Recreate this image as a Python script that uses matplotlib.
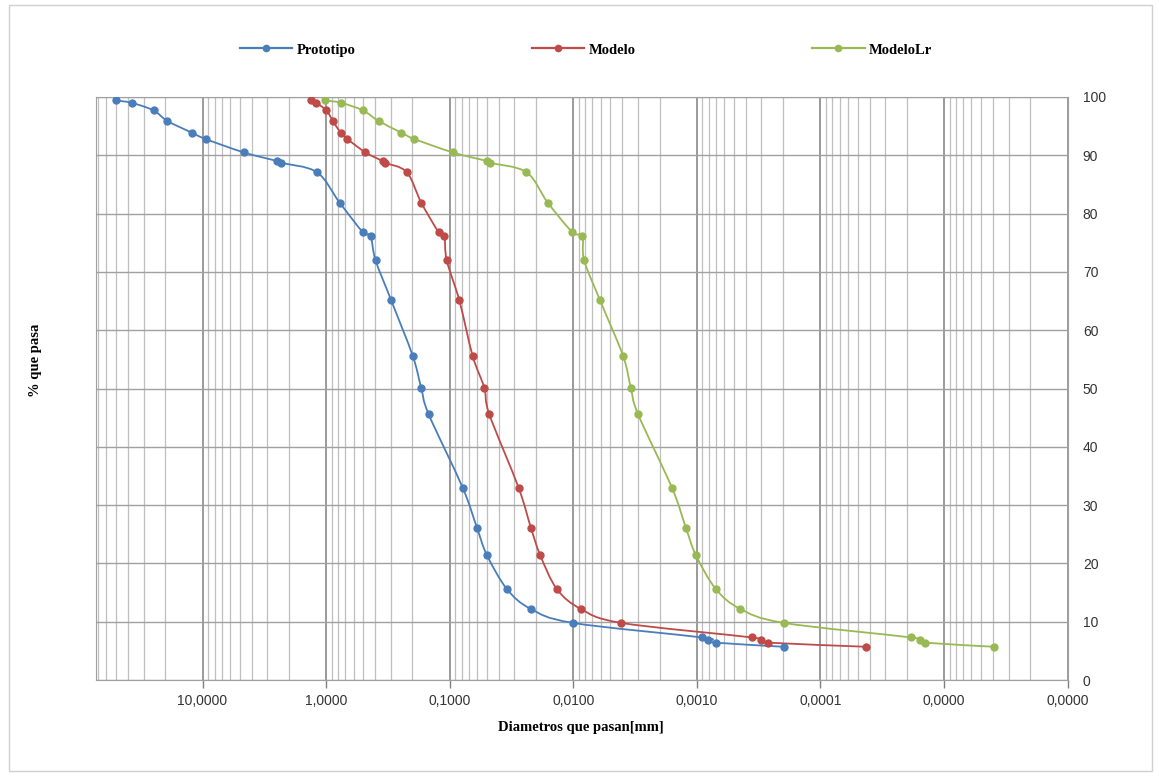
import numpy as np
import matplotlib
matplotlib.use('Agg')
import matplotlib.pyplot as plt
from matplotlib.path import Path
from matplotlib.patches import PathPatch, Rectangle
from matplotlib.lines import Line2D
from matplotlib.ticker import FixedLocator, FuncFormatter, MultipleLocator, NullFormatter

# % que pasa (same for the three curves)
pct = [99.4, 99.0, 97.7, 95.9, 93.9, 92.8, 90.5, 89.0, 88.7, 87.1, 81.9, 76.8, 76.2, 72.0,
       65.1, 55.6, 50.1, 45.6, 33.0, 26.1, 21.4, 15.6, 12.2, 9.8, 7.3, 6.8, 6.4, 5.7]

# diametros [mm]
prototipo = [50.1, 37.5, 24.9, 19.3, 12.27, 9.46, 4.64, 2.48, 2.30, 1.187, 0.778, 0.504, 0.437, 0.398,
             0.297, 0.199, 0.170, 0.148, 0.0785, 0.0601, 0.0499, 0.0344, 0.0221, 0.0101,
             0.000910, 0.000815, 0.000697, 0.000198]
modelo = [1.317, 1.200, 0.996, 0.881, 0.764, 0.674, 0.480, 0.348, 0.331, 0.2225, 0.170, 0.1227, 0.1104, 0.1057,
          0.0835, 0.0652, 0.0524, 0.0478, 0.0277, 0.0220, 0.0185, 0.01357, 0.00870, 0.00410,
          0.000359, 0.000304, 0.000263, 0.0000425]
modelo_lr = [1.015, 0.754, 0.504, 0.3765, 0.247, 0.193, 0.0946, 0.0496, 0.0469, 0.0239, 0.0161, 0.01015, 0.00843, 0.00816,
             0.00606, 0.00395, 0.00342, 0.00299, 0.00159, 0.001225, 0.001017, 0.000701, 0.000445, 0.000198,
             0.0000185, 0.0000155, 0.0000141, 0.00000395]

series = [('Prototipo', prototipo, '#4A7EBB'),
          ('Modelo', modelo, '#BE4B48'),
          ('ModeloLr', modelo_lr, '#98B954')]

x_max, x_min = 72.8, 1e-6
decades = 10.0 ** np.arange(1, -7, -1)


def smooth_path(xs, ys):
    # excel-like smoothed line: catmull-rom bezier in log-x space
    pts = np.column_stack([np.log10(xs), ys])
    n = len(pts)
    verts = [pts[0]]
    codes = [Path.MOVETO]
    for i in range(n - 1):
        p0 = pts[i - 1] if i > 0 else pts[i]
        p1 = pts[i]
        p2 = pts[i + 1]
        p3 = pts[i + 2] if i + 2 < n else pts[i + 1]
        verts += [p1 + (p2 - p0) / 6, p2 - (p3 - p1) / 6, p2]
        codes += [Path.CURVE4] * 3
    v = np.array(verts)
    v[:, 0] = 10 ** v[:, 0]
    return Path(v, codes)


W, H = 1159, 777
fig = plt.figure(figsize=(W / 100, H / 100), dpi=100)
ax = fig.add_axes([96 / W, 1 - 680 / H, (1067.5 - 96) / W, (680 - 97) / H])

ax.set_xscale('log')
ax.set_xlim(x_max, x_min)
ax.set_ylim(0, 100)

for name, xs, col in series:
    ax.add_patch(PathPatch(smooth_path(xs, pct), facecolor='none', edgecolor=col, lw=1.3, zorder=3))
    ax.plot(xs, pct, 'o', color=col, ms=5, zorder=4)

minors = [d * s for d in decades for s in range(2, 10)]
minors = [m for m in minors if x_min < m < x_max]
ax.xaxis.set_major_locator(FixedLocator(decades))
ax.xaxis.set_minor_locator(FixedLocator(minors))
ax.xaxis.set_major_formatter(FuncFormatter(lambda v, p: f"{v:.4f}".replace('.', ',')))
ax.xaxis.set_minor_formatter(NullFormatter())
ax.yaxis.set_major_locator(MultipleLocator(10))
ax.yaxis.tick_right()

ax.grid(True, which='major', axis='x', color='#7F7F7F', lw=1.1)
ax.grid(True, which='minor', axis='x', color='#BFBFBF', lw=0.9)
ax.grid(True, which='major', axis='y', color='#A0A0A0', lw=1.0)
ax.set_axisbelow(True)

ax.tick_params(axis='x', which='major', length=6, width=1, color='#7F7F7F', pad=4,
               labelsize=10, labelcolor='#333333')
ax.tick_params(axis='x', which='minor', length=0)
ax.tick_params(axis='y', length=0, pad=11, labelsize=10, labelcolor='#333333')
for lab in ax.get_xticklabels() + ax.get_yticklabels():
    lab.set_fontfamily('Liberation Sans')
for sp in ax.spines.values():
    sp.set_color('#A0A0A0')

serif = 'Liberation Serif'
fig.text(581 / W, 1 - 728 / H, 'Diametros que pasan[mm]', ha='center', va='center',
         fontsize=10.5, fontweight='bold', family=serif)
fig.text(35 / W, 1 - 360 / H, '% que pasa', ha='center', va='center', rotation=90,
         fontsize=10.5, fontweight='bold', family=serif)

handles = [Line2D([], [], color=c, lw=1.6, marker='o', ms=4.5) for _, _, c in series]
fig.legend(handles, [s[0] for s in series], loc='center', ncol=3,
           bbox_to_anchor=(586 / W, 1 - 50 / H), frameon=False, handlelength=3.6,
           columnspacing=12.1, handletextpad=0.3,
           prop={'family': serif, 'weight': 'bold', 'size': 10.5})

fig.patches.append(Rectangle((9 / W, 1 - 771 / H), (1152 - 9) / W, (771 - 5) / H,
                             transform=fig.transFigure, fill=False, ec='#D0D0D0', lw=1))

fig.savefig('out.png', dpi=100)
